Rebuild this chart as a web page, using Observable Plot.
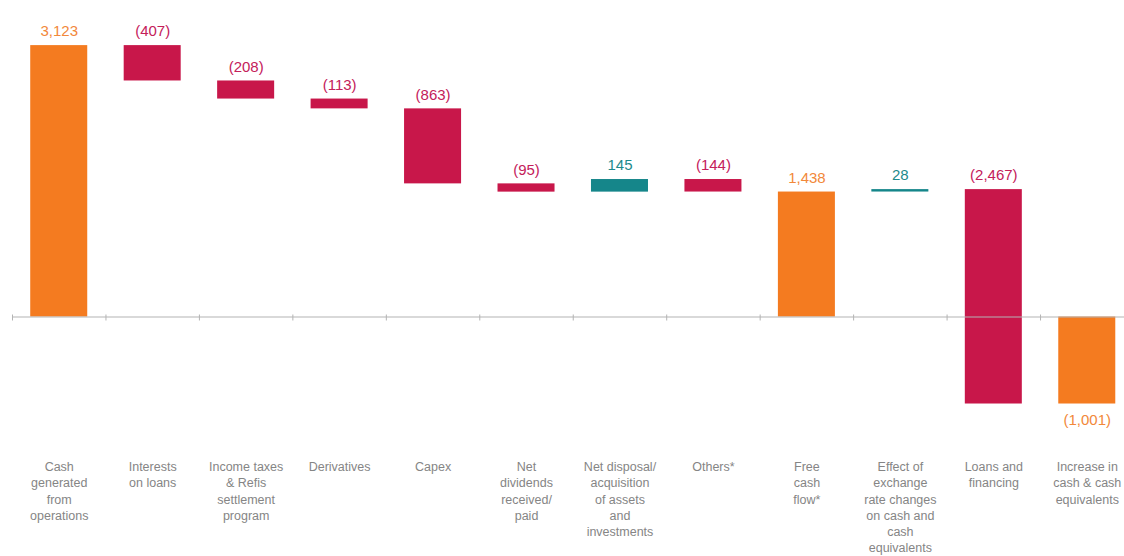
<!DOCTYPE html>
<html>
<head>
<meta charset="utf-8">
<script src="https://cdn.jsdelivr.net/npm/d3@7"></script>
<script src="https://cdn.jsdelivr.net/npm/@observablehq/plot@0.6"></script>
<style>
  html, body { margin: 0; padding: 0; background: #ffffff; }
  #chart { width: 1124px; height: 556px; overflow: hidden; }
</style>
</head>
<body>
<div id="chart"></div>
<script>
const categories = [
  "Cash generated from operations",
  "Interests on loans",
  "Income taxes & Refis settlement program",
  "Derivatives",
  "Capex",
  "Net dividends received/ paid",
  "Net disposal/ acquisition of assets and investments",
  "Others*",
  "Free cash flow*",
  "Effect of exchange rate changes on cash and cash equivalents",
  "Loans and financing",
  "Increase in cash & cash equivalents"
];
const tickLabels = [
  "Cash\ngenerated\nfrom\noperations",
  "Interests\non loans",
  "Income taxes\n& Refis\nsettlement\nprogram",
  "Derivatives",
  "Capex",
  "Net\ndividends\nreceived/\npaid",
  "Net disposal/\nacquisition\nof assets\nand\ninvestments",
  "Others*",
  "Free\ncash\nflow*",
  "Effect of\nexchange\nrate changes\non cash and\ncash\nequivalents",
  "Loans and\nfinancing",
  "Increase in\ncash & cash\nequivalents"
];
const values = [3123, -407, -208, -113, -863, -95, 145, -144, 1438, 28, -2467, -1001];
const kinds = ["total", "delta", "delta", "delta", "delta", "delta", "delta", "delta", "total", "delta", "delta", "total"];
const valueLabels = ["3,123", "(407)", "(208)", "(113)", "(863)", "(95)", "145", "(144)", "1,438", "28", "(2,467)", "(1,001)"];

const barColors = {total: "#F47B20", neg: "#C8174A", pos: "#15868A"};
const textColors = {total: "#F2883A", neg: "#C4205A", pos: "#1D8A8C"};

let cum = 0;
const rows = categories.map((cat, i) => {
  const v = values[i];
  let y1, y2;
  if (kinds[i] === "total") { y1 = 0; y2 = v; cum = v; }
  else { y1 = cum; y2 = cum + v; cum = y2; }
  const type = kinds[i] === "total" ? "total" : (v < 0 ? "neg" : "pos");
  return {cat, y1, y2, type, label: valueLabels[i], top: Math.max(y1, y2), bottom: Math.min(y1, y2), below: kinds[i] === "total" && v < 0};
});
const tickMap = new Map(categories.map((c, i) => [c, tickLabels[i]]));

const chart = Plot.plot({
  width: 1124,
  height: 556,
  marginTop: 0,
  marginLeft: 12,
  marginRight: 0,
  marginBottom: 100,
  style: {fontFamily: "'Liberation Sans', Arial, sans-serif", background: "#ffffff"},
  x: {domain: categories, range: [12, 1133.5], paddingInner: 0.39, paddingOuter: 0.195, round: false, axis: null},
  y: {domain: [-1605, 3642], axis: null},
  marks: [
    Plot.barY(rows, {x: "cat", y1: "y1", y2: "y2", fill: d => barColors[d.type]}),
    Plot.ruleY([0], {stroke: "#b4b4b4", strokeWidth: 1.2}),
    Plot.ruleX(categories, {x: d => d, y1: 0, y2: 0, dx: -46.73, insetTop: -2, insetBottom: -4, stroke: "#b4b4b4"}),
    Plot.text(rows.filter(d => !d.below), {x: "cat", y: "top", text: "label", dy: -14, fill: d => textColors[d.type], fontSize: 15, letterSpacing: 0.6}),
    Plot.text(rows.filter(d => d.below), {x: "cat", y: "bottom", text: "label", dy: 16, fill: d => textColors[d.type], fontSize: 15, letterSpacing: 0.6}),
    Plot.axisX({anchor: "bottom", label: null, tickSize: 0, tickPadding: 3, fontSize: 12.5, lineHeight: 1.3, fill: "#858585", tickFormat: d => tickMap.get(d)})
  ]
});
document.getElementById("chart").appendChild(chart);
</script>
</body>
</html>
